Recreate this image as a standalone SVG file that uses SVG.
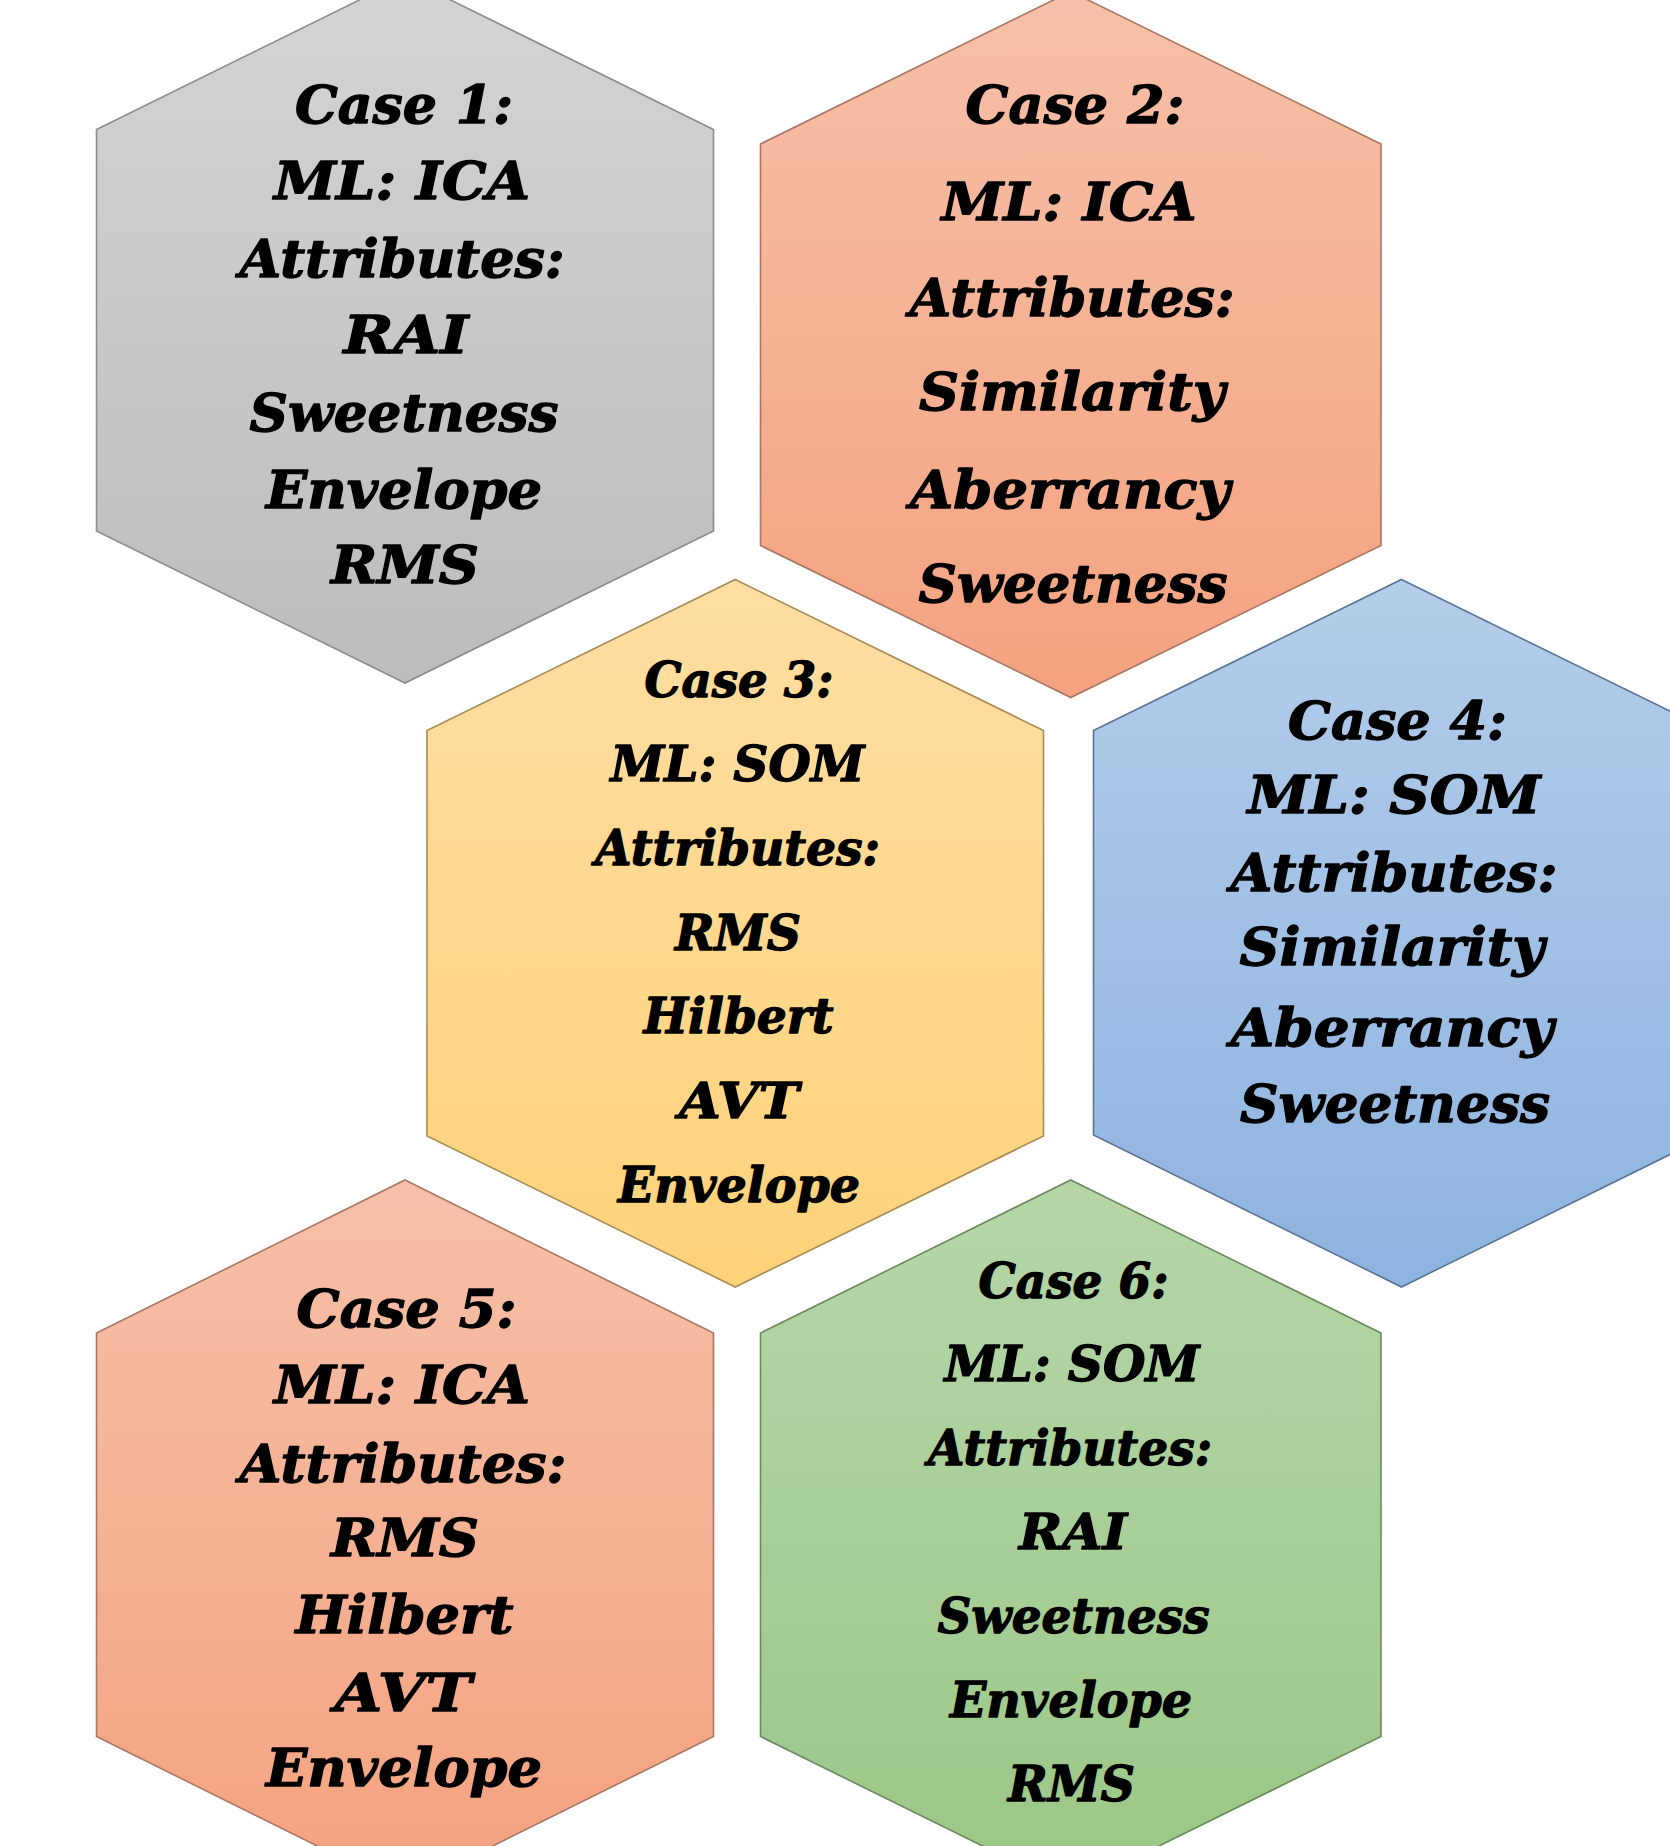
<svg xmlns="http://www.w3.org/2000/svg" width="1670" height="1846" viewBox="0 0 1670 1846">
<style>
  .hex { stroke-width: 1.6; }
  .t { font-family: "DejaVu Serif", "Liberation Serif", serif; font-weight: bold; font-style: italic; fill: #000; stroke: #000; stroke-width: 1.3px; stroke-linejoin: round; text-anchor: middle; }
  .L { font-size: 52px; }
  .S { font-size: 48px; }
</style>
<defs>
  <linearGradient id="gGray" x1="0" y1="0" x2="0" y2="1">
    <stop offset="0" stop-color="#d4d4d4"/><stop offset="1" stop-color="#bcbcbc"/>
  </linearGradient>
  <linearGradient id="gOrange" x1="0" y1="0" x2="0" y2="1">
    <stop offset="0" stop-color="#f6c0a8"/><stop offset="1" stop-color="#f4a27f"/>
  </linearGradient>
  <linearGradient id="gGold" x1="0" y1="0" x2="0" y2="1">
    <stop offset="0" stop-color="#fedea2"/><stop offset="1" stop-color="#fdd27a"/>
  </linearGradient>
  <linearGradient id="gBlue" x1="0" y1="0" x2="0" y2="1">
    <stop offset="0" stop-color="#b4cdea"/><stop offset="1" stop-color="#8db3e0"/>
  </linearGradient>
  <linearGradient id="gGreen" x1="0" y1="0" x2="0" y2="1">
    <stop offset="0" stop-color="#b6d6a9"/><stop offset="1" stop-color="#9ac786"/>
  </linearGradient>
</defs>
<rect x="0" y="0" width="1670" height="1846" fill="#ffffff"/>

<g id="case1">
  <polygon class="hex" fill="url(#gGray)" stroke="#8c8c8c" points="405,-22.5 713.5,129.5 713.5,531 405,683 96.5,531 96.5,129.5"/>
  <text class="t L" x="404" y="123" textLength="218" lengthAdjust="spacingAndGlyphs">Case 1:</text>
  <text class="t L" x="402" y="199" textLength="256" lengthAdjust="spacingAndGlyphs">ML: ICA</text>
  <text class="t L" x="402" y="277" textLength="325" lengthAdjust="spacingAndGlyphs">Attributes:</text>
  <text class="t L" x="406" y="353" textLength="125" lengthAdjust="spacingAndGlyphs">RAI</text>
  <text class="t L" x="404" y="431" textLength="309" lengthAdjust="spacingAndGlyphs">Sweetness</text>
  <text class="t L" x="404" y="508" textLength="276" lengthAdjust="spacingAndGlyphs">Envelope</text>
  <text class="t L" x="405" y="583" textLength="148" lengthAdjust="spacingAndGlyphs">RMS</text>
</g>

<g id="case2">
  <polygon class="hex" fill="url(#gOrange)" stroke="#a87663" points="1070.75,-8.5 1381,144 1381,545.5 1070.75,697.5 760.5,545.5 760.5,144"/>
  <text class="t L" x="1075" y="123" textLength="219" lengthAdjust="spacingAndGlyphs">Case 2:</text>
  <text class="t L" x="1069" y="220" textLength="255" lengthAdjust="spacingAndGlyphs">ML: ICA</text>
  <text class="t L" x="1072" y="316" textLength="325" lengthAdjust="spacingAndGlyphs">Attributes:</text>
  <text class="t L" x="1072" y="410" textLength="306" lengthAdjust="spacingAndGlyphs">Similarity</text>
  <text class="t L" x="1070" y="508" textLength="320" lengthAdjust="spacingAndGlyphs">Aberrancy</text>
  <text class="t L" x="1073" y="602" textLength="309" lengthAdjust="spacingAndGlyphs">Sweetness</text>
</g>

<g id="case3">
  <polygon class="hex" fill="url(#gGold)" stroke="#a88c55" points="735.25,579.5 1043.5,730.5 1043.5,1136 735.25,1287 427,1136 427,730.5"/>
  <text class="t S" x="739" y="697" textLength="189" lengthAdjust="spacingAndGlyphs">Case 3:</text>
  <text class="t S" x="737.5" y="780.5" textLength="254" lengthAdjust="spacingAndGlyphs">ML: SOM</text>
  <text class="t S" x="737.5" y="864.5" textLength="285" lengthAdjust="spacingAndGlyphs">Attributes:</text>
  <text class="t S" x="738" y="950" textLength="126" lengthAdjust="spacingAndGlyphs">RMS</text>
  <text class="t S" x="738.5" y="1032.5" textLength="190" lengthAdjust="spacingAndGlyphs">Hilbert</text>
  <text class="t S" x="739" y="1117.5" textLength="120" lengthAdjust="spacingAndGlyphs">AVT</text>
  <text class="t S" x="739" y="1202" textLength="242" lengthAdjust="spacingAndGlyphs">Envelope</text>
</g>

<g id="case4">
  <polygon class="hex" fill="url(#gBlue)" stroke="#5b7396" points="1401.5,579.5 1709.5,730.5 1709.5,1135 1401.5,1287 1093.5,1135 1093.5,730.5"/>
  <text class="t L" x="1397.5" y="738.5" textLength="219" lengthAdjust="spacingAndGlyphs">Case 4:</text>
  <text class="t L" x="1394" y="813" textLength="293" lengthAdjust="spacingAndGlyphs">ML: SOM</text>
  <text class="t L" x="1394" y="891" textLength="327" lengthAdjust="spacingAndGlyphs">Attributes:</text>
  <text class="t L" x="1392" y="965" textLength="305" lengthAdjust="spacingAndGlyphs">Similarity</text>
  <text class="t L" x="1392" y="1046" textLength="323" lengthAdjust="spacingAndGlyphs">Aberrancy</text>
  <text class="t L" x="1395" y="1122" textLength="310" lengthAdjust="spacingAndGlyphs">Sweetness</text>
</g>

<g id="case5">
  <polygon class="hex" fill="url(#gOrange)" stroke="#a87663" points="405,1180 713.5,1333 713.5,1736.5 405,1889.5 96.5,1736.5 96.5,1333"/>
  <text class="t L" x="406.5" y="1327" textLength="220" lengthAdjust="spacingAndGlyphs">Case 5:</text>
  <text class="t L" x="402" y="1403" textLength="256" lengthAdjust="spacingAndGlyphs">ML: ICA</text>
  <text class="t L" x="403" y="1481.5" textLength="327" lengthAdjust="spacingAndGlyphs">Attributes:</text>
  <text class="t L" x="405" y="1556" textLength="148" lengthAdjust="spacingAndGlyphs">RMS</text>
  <text class="t L" x="404.5" y="1633" textLength="218" lengthAdjust="spacingAndGlyphs">Hilbert</text>
  <text class="t L" x="403" y="1711" textLength="137" lengthAdjust="spacingAndGlyphs">AVT</text>
  <text class="t L" x="404" y="1786" textLength="276" lengthAdjust="spacingAndGlyphs">Envelope</text>
</g>

<g id="case6">
  <polygon class="hex" fill="url(#gGreen)" stroke="#6c8a5c" points="1070.75,1180 1381,1333 1381,1736.5 1070.75,1889.5 760.5,1736.5 760.5,1333"/>
  <text class="t S" x="1073.5" y="1298" textLength="190" lengthAdjust="spacingAndGlyphs">Case 6:</text>
  <text class="t S" x="1072" y="1381" textLength="255" lengthAdjust="spacingAndGlyphs">ML: SOM</text>
  <text class="t S" x="1070" y="1465" textLength="284" lengthAdjust="spacingAndGlyphs">Attributes:</text>
  <text class="t S" x="1073" y="1548.5" textLength="108" lengthAdjust="spacingAndGlyphs">RAI</text>
  <text class="t S" x="1073.5" y="1632.5" textLength="272" lengthAdjust="spacingAndGlyphs">Sweetness</text>
  <text class="t S" x="1071" y="1716.5" textLength="242" lengthAdjust="spacingAndGlyphs">Envelope</text>
  <text class="t S" x="1071.5" y="1801" textLength="127" lengthAdjust="spacingAndGlyphs">RMS</text>
</g>

<g id="connectors"></g>
</svg>
